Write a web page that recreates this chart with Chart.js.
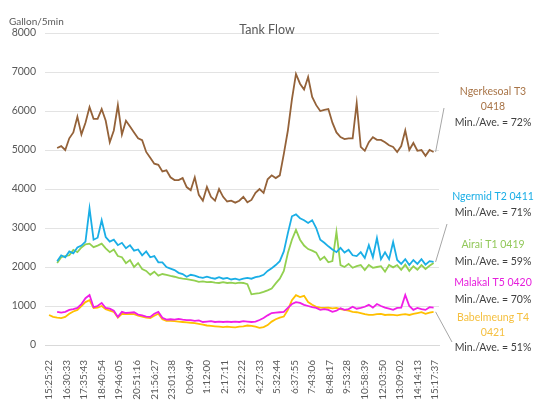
<!DOCTYPE html>
<html>
<head>
<meta charset="utf-8">
<script src="https://cdn.jsdelivr.net/npm/chart.js@4/dist/chart.umd.min.js"></script>
<style>
  html, body { margin: 0; padding: 0; background: #ffffff; }
  #wrap { width: 547px; height: 409px; position: relative; }
</style>
</head>
<body>
<div id="wrap"><canvas id="c" width="547" height="409"></canvas></div>
<script>
// Time labels shown on the category axis (one every 13 samples)
const tickLabels = ["15:25:22","16:30:33","17:35:43","18:40:54","19:46:05","20:51:16","21:56:27","23:01:38","0:06:49","1:12:00","2:17:11","3:22:22","4:27:33","5:32:44","6:37:55","7:43:06","8:48:17","9:53:28","10:58:39","12:03:50","13:09:02","14:14:13","15:17:37"];
const TICK_EVERY = 13;   // samples between time labels
const STEP = 3;          // samples between stored readings

// Flow readings, gallon per 5 min
const ngerkesoal = [null,null,5050,5100,5000,5300,5450,5850,5400,5700,6100,5800,5800,6050,5750,5200,5500,6150,5400,5750,5600,5450,5300,5250,4950,4800,4650,4620,4450,4480,4300,4230,4230,4280,4050,3970,4300,3850,3700,4050,3800,3700,4000,3800,3680,3700,3650,3700,3800,3660,3720,3900,4000,3900,4250,4350,4280,4350,4900,5500,6300,6950,6700,6550,6870,6360,6150,6000,6030,6050,5700,5450,5330,5280,5300,5300,6200,5080,4980,5200,5330,5260,5260,5200,5120,5080,4950,5100,5500,5000,5180,4980,5000,4850,5000,4950];
const ngermid = [null,null,2150,2300,2250,2400,2350,2500,2550,2650,3500,2700,2750,3200,2770,2650,2700,2560,2620,2480,2560,2420,2450,2300,2400,2250,2280,2120,2120,2000,1960,1920,1850,1820,1750,1800,1780,1740,1720,1750,1720,1700,1740,1700,1720,1680,1700,1670,1700,1720,1700,1740,1760,1800,1900,1970,2050,2150,2400,2870,3300,3350,3250,3200,3130,3200,3000,2700,2620,2530,2450,2380,2490,2370,2440,2300,2280,2380,2230,2560,2250,2740,2200,2380,2200,2640,2180,2080,2200,2050,2180,2080,2200,2060,2150,2130];
const airai = [null,null,2100,2250,2280,2300,2440,2380,2500,2580,2600,2510,2550,2600,2480,2380,2450,2280,2250,2100,2180,2000,2100,1950,1900,1800,1880,1780,1820,1800,1770,1750,1720,1700,1690,1670,1650,1620,1630,1610,1620,1600,1590,1610,1590,1600,1580,1600,1590,1560,1300,1320,1330,1360,1400,1450,1580,1700,1900,2360,2700,2950,2700,2550,2460,2420,2370,2180,2260,2120,2150,2900,2050,2000,2080,1980,2020,2050,1920,2050,1980,2000,2020,1880,2050,1990,2050,1930,2060,1900,2020,1930,2050,1950,2030,2100];
const malakal = [null,null,850,830,850,900,920,950,1050,1200,1280,970,1000,1080,950,930,880,720,850,820,830,840,780,760,730,720,800,850,700,650,660,650,670,650,640,640,620,630,590,600,610,590,600,590,600,590,600,590,610,600,590,600,640,690,760,820,830,840,850,950,1050,1100,1080,1030,1000,970,950,900,920,900,850,880,940,900,920,980,930,950,980,1030,960,1050,1000,960,930,900,950,960,1280,1000,900,950,920,900,970,960];
const babelmeung = [770,720,700,690,720,800,860,900,1000,1100,1150,950,960,1000,920,880,850,700,800,790,800,790,750,730,700,690,750,800,660,620,620,610,600,590,580,570,560,540,520,500,490,480,470,460,470,460,450,470,480,500,490,470,440,460,510,600,660,700,730,900,1150,1280,1230,1260,1100,1030,980,960,950,960,940,950,920,900,880,850,840,820,790,770,770,790,800,770,780,770,760,780,790,770,800,820,840,800,830,850];

// Series names, colours and ratio notes for the side labels
const seriesNames = ["Ngerkesoal T3 0418","Ngermid T2 0411","Airai T1 0419","Malakal T5 0420","Babelmeung T4 0421"];
const minAveRatios = ["72%","71%","59%","70%","51%"];
const lineColors = ["#946239","#1AAEE6","#92D050","#F01EE6","#FFC000"];
const textColors = ["#A87447","#1AAEE6","#92C85A","#E61EDC","#F5C040"];

const seriesValues = [ngerkesoal, ngermid, airai, malakal, babelmeung];
const toPoints = vals => vals.map((v, k) => ({ x: k * STEP, y: v }));

const FONT = "Lato, 'Liberation Sans', sans-serif";

// Text blocks to the right of the plot (lines, colours of each line)
const sideLabels = [
  { lines: [["Ngerkesoal T3", 0], ["0418", 0], ["Min./Ave. = " + minAveRatios[0], -1]], y: [92, 107, 123], leaderTo: [444, 108] },
  { lines: [["Ngermid T2 0411", 1], ["Min./Ave. = " + minAveRatios[1], -1]], y: [197, 213], leaderTo: [447, 224] },
  { lines: [["Airai T1 0419", 2], ["Min./Ave. = " + minAveRatios[2], -1]], y: [245, 262], leaderTo: null },
  { lines: [["Malakal T5 0420", 3], ["Min./Ave. = " + minAveRatios[3], -1]], y: [283, 300], leaderTo: null },
  { lines: [["Babelmeung T4", 4], ["0421", 4], ["Min./Ave. = " + minAveRatios[4], -1]], y: [318, 333, 348], leaderTo: [452, 342] }
];

const annotate = {
  id: "annotate",
  afterDraw(chart) {
    const ctx = chart.ctx;
    const xs = chart.scales.x, ys = chart.scales.y;
    ctx.save();
    // unit and title
    ctx.fillStyle = "#595959";
    ctx.textBaseline = "middle";
    ctx.font = "10px " + FONT;
    ctx.textAlign = "left";
    ctx.fillText("Gallon/5min", 9, 22);
    ctx.font = "12.5px " + FONT;
    ctx.textAlign = "center";
    ctx.fillText("Tank Flow", 267, 30);

    // leader lines from each series' last reading
    ctx.strokeStyle = "#A6A6A6";
    ctx.lineWidth = 1;
    sideLabels.forEach((lab, s) => {
      if (!lab.leaderTo) return;
      const vals = seriesValues[s];
      const k = vals.length - 1;
      const px = xs.getPixelForValue(k * STEP);
      const py = ys.getPixelForValue(vals[k]);
      ctx.beginPath();
      ctx.moveTo(px + 2, py);
      ctx.lineTo(lab.leaderTo[0], lab.leaderTo[1]);
      ctx.stroke();
    });

    // side text
    ctx.font = "10.5px " + FONT;
    ctx.textAlign = "center";
    sideLabels.forEach(lab => {
      lab.lines.forEach((ln, j) => {
        ctx.fillStyle = ln[1] < 0 ? "#404040" : textColors[ln[1]];
        ctx.fillText(ln[0], 493, lab.y[j]);
      });
    });
    ctx.restore();
  }
};

new Chart(document.getElementById("c"), {
  type: "line",
  data: {
    datasets: seriesValues.map((vals, s) => ({
      label: seriesNames[s],
      data: toPoints(vals),
      borderColor: lineColors[s],
      backgroundColor: lineColors[s],
      borderWidth: 1.8,
      pointRadius: 0,
      tension: 0,
      spanGaps: false,
      order: [4, 1, 2, 0, 3][s]
    }))
  },
  options: {
    responsive: false,
    animation: false,
    events: [],
    layout: { padding: { left: 0, right: 108, top: 33, bottom: 0 } },
    plugins: {
      legend: { display: false },
      title: { display: false },
      tooltip: { enabled: false }
    },
    scales: {
      x: {
        type: "linear",
        min: -3,
        max: 289,
        afterBuildTicks: axis => {
          axis.ticks = tickLabels.map((t, j) => ({ value: j * TICK_EVERY }));
        },
        afterFit: scale => { scale.height = 64; },
        grid: { display: false, drawTicks: false },
        border: { display: true, color: "#D9D9D9" },
        ticks: {
          autoSkip: false,
          minRotation: 90,
          maxRotation: 90,
          padding: 15,
          color: "#595959",
          font: { family: FONT, size: 10 },
          callback: v => tickLabels[Math.round(v / TICK_EVERY)]
        }
      },
      y: {
        min: 0,
        max: 8000,
        afterFit: scale => { scale.width = 45; },
        grid: { color: "#E3E3E3", drawTicks: false },
        border: { display: false },
        ticks: {
          stepSize: 1000,
          padding: 9,
          color: "#595959",
          font: { family: FONT, size: 10.5 },
          callback: v => String(v)
        }
      }
    }
  },
  plugins: [annotate]
});
</script>
</body>
</html>
